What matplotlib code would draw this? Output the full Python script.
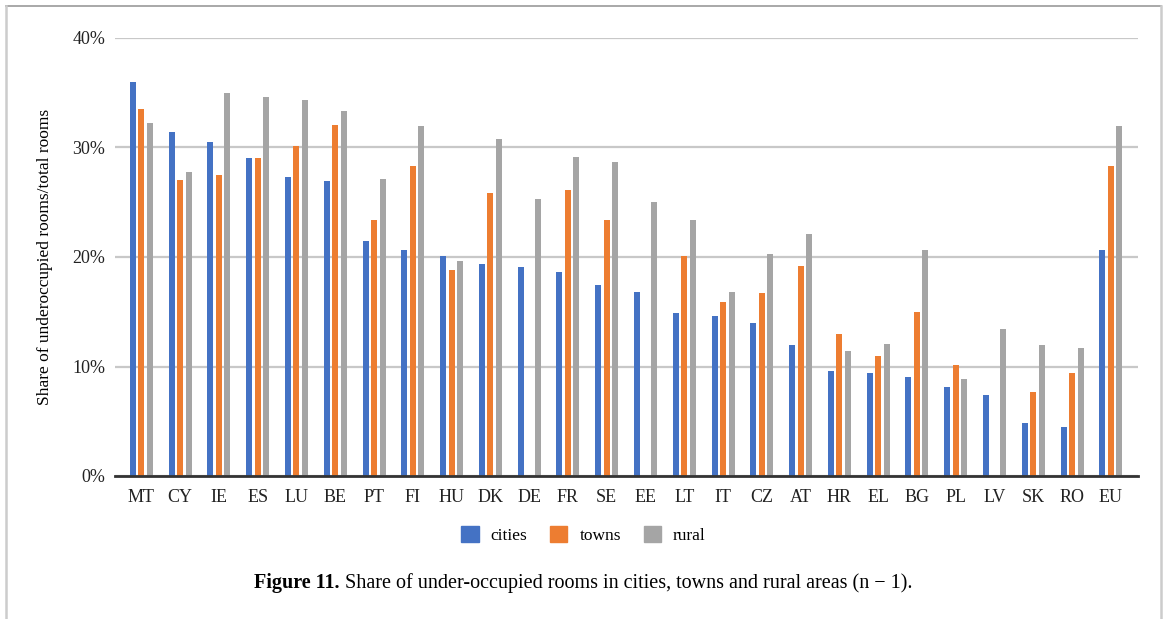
import numpy as np
import matplotlib
matplotlib.use('Agg')
import matplotlib.pyplot as plt
from matplotlib.lines import Line2D
from matplotlib.patches import Patch

plt.rcParams['font.family'] = ['Liberation Serif', 'DejaVu Serif']

countries = ['MT', 'CY', 'IE', 'ES', 'LU', 'BE', 'PT', 'FI', 'HU', 'DK', 'DE', 'FR', 'SE',
             'EE', 'LT', 'IT', 'CZ', 'AT', 'HR', 'EL', 'BG', 'PL', 'LV', 'SK', 'RO', 'EU']
cities = [36.0, 31.4, 30.5, 29.0, 27.3, 26.9, 21.5, 20.6, 20.1, 19.4, 19.1, 18.6, 17.4,
          16.8, 14.9, 14.6, 14.0, 12.0, 9.6, 9.4, 9.0, 8.1, 7.4, 4.8, 4.5, 20.6]
towns = [33.5, 27.0, 27.5, 29.0, 30.1, 32.1, 23.4, 28.3, 18.8, 25.8, np.nan, 26.1, 23.4,
         np.nan, 20.1, 15.9, 16.7, 19.2, 13.0, 11.0, 15.0, 10.1, np.nan, 7.7, 9.4, 28.3]
rural = [32.2, 27.8, 35.0, 34.6, 34.3, 33.3, 27.1, 32.0, 19.6, 30.8, 25.3, 29.1, 28.7,
         25.0, 23.4, 16.8, 20.3, 22.1, 11.4, 12.1, 20.6, 8.9, 13.4, 12.0, 11.7, 32.0]
yticks = [0, 10, 20, 30, 40]

blue, orange, grey = '#4472C4', '#ED7D31', '#A5A5A5'

fig = plt.figure(figsize=(11.65, 6.19), dpi=100)
ax = fig.add_axes([115/1165, 1-476/619, (1138-115)/1165, (476-38)/619])

x = np.arange(len(countries))
w = 0.155
off = 0.22
ax.bar(x - off, cities, w, color=blue, zorder=3)
ax.bar(x, np.nan_to_num(towns), w, color=orange, zorder=3)
ax.bar(x + off, rural, w, color=grey, zorder=3)

ax.set_xlim(-0.68, len(countries) - 1 + 0.7)
ax.set_ylim(0, 40)
ax.set_yticks(yticks)
ax.set_yticklabels([f'{t}%' for t in yticks])
ax.set_xticks(x)
ax.set_xticklabels(countries)
ax.tick_params(axis='both', length=0, labelsize=13, colors='#222222')
ax.tick_params(axis='y', pad=7)
ax.tick_params(axis='x', pad=9)
for s in ax.spines.values():
    s.set_visible(False)
ax.grid(axis='y', color='#c8c8c8', linewidth=1.6, zorder=0)
ax.axhline(0, color='#333333', linewidth=2, zorder=4, clip_on=False)
ax.set_ylabel('Share of underoccupied rooms/total rooms', fontsize=12.5, labelpad=14)

handles = [Patch(color=blue, label='cities'), Patch(color=orange, label='towns'),
           Patch(color=grey, label='rural')]
fig.legend(handles=handles, loc='center', bbox_to_anchor=(583.5/1165, 1-535/619), ncol=3,
           frameon=False, fontsize=12.5, handlelength=1.0, handleheight=1.0,
           handletextpad=0.7, columnspacing=1.3)

# caption: bold label followed by regular text
cap_y = 1 - 583/619
t1 = fig.text(0, cap_y, 'Figure 11.', fontsize=14.5, fontweight='bold', va='center')
t2 = fig.text(0, cap_y, ' Share of under-occupied rooms in cities, towns and rural areas (n \u2212 1).',
              fontsize=14.5, va='center')
fig.canvas.draw()
r = fig.canvas.get_renderer()
w1 = t1.get_window_extent(r).width
w2 = t2.get_window_extent(r).width
start = 583.5 - (w1 + w2) / 2
t1.set_x(start / 1165)
t2.set_x((start + w1) / 1165)

# page frame
fig.add_artist(Line2D([6/1165, 1161/1165], [1-6/619, 1-6/619], color='#999999', linewidth=1.2))
fig.add_artist(Line2D([6/1165, 6/1165], [0, 1-6/619], color='#cccccc', linewidth=1.8))
fig.add_artist(Line2D([1161/1165, 1161/1165], [0, 1-6/619], color='#cccccc', linewidth=1.8))

fig.savefig('out.png', dpi=100)
